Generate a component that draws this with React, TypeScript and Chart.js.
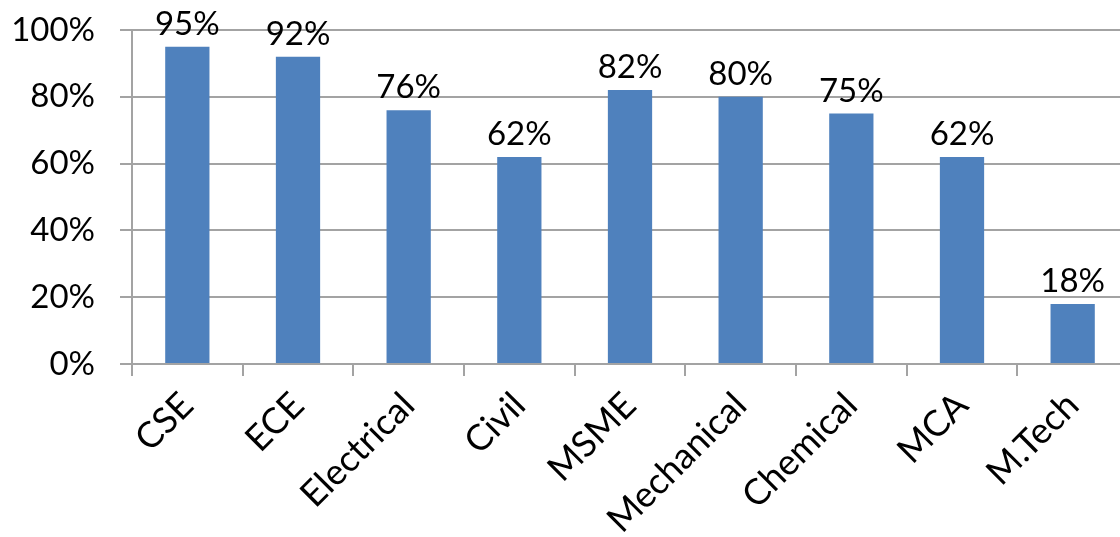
import React, { useEffect, useRef } from "react";
import { Chart, registerables } from "chart.js";

Chart.register(...registerables);

const categories = ["CSE", "ECE", "Electrical", "Civil", "MSME", "Mechanical", "Chemical", "MCA", "M.Tech"];
const values = [95, 92, 76, 62, 82, 80, 75, 62, 18];
const yTicks = [0, 20, 40, 60, 80, 100];

const FONT = "Lato";
const GRID = "#a3a3a3";

const labelPlugin = {
  id: "valueLabels",
  afterDatasetsDraw(chart: any) {
    const ctx = chart.ctx;
    const meta = chart.getDatasetMeta(0);
    ctx.save();
    ctx.font = `33px ${FONT}`;
    ctx.fillStyle = "#000";
    ctx.textAlign = "center";
    ctx.textBaseline = "alphabetic";
    meta.data.forEach((bar: any, i: number) => {
      ctx.fillText(values[i] + "%", bar.x, bar.y - 12);
    });
    ctx.restore();
  },
};

export default function App() {
  const ref = useRef<HTMLCanvasElement>(null);
  useEffect(() => {
    document.body.style.margin = "0";
    const chart = new Chart(ref.current!, {
      type: "bar",
      data: {
        labels: categories,
        datasets: [
          {
            data: values,
            backgroundColor: "#4F81BD",
            borderWidth: 0,
            barPercentage: 0.4,
            categoryPercentage: 1,
          },
        ],
      },
      options: {
        animation: false,
        responsive: false,
        devicePixelRatio: 1,
        layout: { padding: { top: 30, right: 12, left: 0, bottom: 0 } },
        plugins: { legend: { display: false }, tooltip: { enabled: false } },
        scales: {
          x: {
            offset: true,
            grid: {
              offset: true,
              drawOnChartArea: false,
              drawTicks: true,
              tickLength: 12,
              color: GRID,
              lineWidth: 2,
            },
            border: { display: true, color: GRID, width: 2 },
            ticks: {
              font: { family: FONT, size: 36 },
              color: "#000",
              maxRotation: 45,
              minRotation: 45,
              padding: 8,
              autoSkip: false,
            },
            afterFit: (scale: any) => {
              scale.height = 537 - 364;
              scale.paddingLeft = 0;
              scale.paddingRight = 0;
            },
          },
          y: {
            min: 0,
            max: 100,
            afterBuildTicks: (scale: any) => {
              scale.ticks = yTicks.map((v) => ({ value: v }));
            },
            grid: { color: GRID, lineWidth: 2, tickLength: 12, drawTicks: true },
            border: { display: true, color: GRID, width: 2 },
            ticks: {
              font: { family: FONT, size: 33 },
              color: "#000",
              padding: 25,
              callback: (v: any) => v + "%",
            },
            afterFit: (scale: any) => {
              scale.width = 132;
              scale.paddingTop = 0;
              scale.paddingBottom = 0;
            },
          },
        },
      },
      plugins: [labelPlugin],
    });
    return () => chart.destroy();
  }, []);
  return (
    <div style={{ width: 1120, height: 537, overflow: "hidden", position: "relative", background: "#fff" }}>
      <canvas ref={ref} width={1140} height={537} style={{ display: "block", width: 1140, height: 537 }} />
    </div>
  );
}
